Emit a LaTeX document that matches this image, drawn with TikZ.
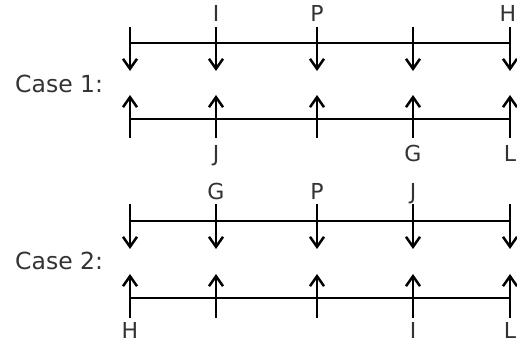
\documentclass[tikz,border=0pt]{standalone}
\usepackage{fontspec}
\setmainfont{DejaVu Sans}
\usetikzlibrary{arrows.meta,positioning}
\tikzset{
  caselab/.style={anchor=base west,inner sep=0pt,text=black!80,font=\fontsize{23.5}{28}\selectfont},
  ptlab/.style={anchor=base,inner sep=0pt,text=black!80,font=\fontsize{22}{26}\selectfont},
  track/.style={line width=2.5pt},
  tick/.style={line width=2.5pt,->}
}

\begin{document}
\begin{tikzpicture}[x=1pt,y=-1pt,>={Straight Barb[length=10pt,width=14pt,line width=2.5pt]}]
  \useasboundingbox (0,0) rectangle (517,344);

  \node[caselab] (case1) at (15,93) {Case 1:};
  \node[caselab] (case2) at (15,270) {Case 2:};

  % arrow ends for both cases
  \foreach \i/\x in {1/130,2/216,3/317,4/413,5/510} {
    \coordinate (dt\i) at (\x,27);  \coordinate (dh\i) at (\x,71);
    \coordinate (ut\i) at (\x,138); \coordinate (uh\i) at (\x,95);
    \coordinate (Dt\i) at (\x,204); \coordinate (Dh\i) at (\x,249);
    \coordinate (Ut\i) at (\x,318); \coordinate (Uh\i) at (\x,274);
  }

  % rails
  \draw[track] (130,43) coordinate (r1a) -- (510,43) coordinate (r1b);
  \draw[track] (130,119) coordinate (r2a) -- (510,119) coordinate (r2b);
  \draw[track] (130,221) coordinate (r3a) -- (510,221) coordinate (r3b);
  \draw[track] (130,298) coordinate (r4a) -- (510,298) coordinate (r4b);

  \foreach \i in {1,...,5} {
    \draw[tick] (dt\i) -- (dh\i);
    \draw[tick] (ut\i) -- (uh\i);
    \draw[tick] (Dt\i) -- (Dh\i);
    \draw[tick] (Ut\i) -- (Uh\i);
  }

  % case 1 labels
  \node[ptlab] (c1I) at (216,22) {I};
  \node[ptlab] (c1P) at (317,22) {P};
  \node[ptlab] (c1H) at (508,22) {H};
  \node[ptlab] (c1J) at (216,162) {J};
  \node[ptlab] (c1G) at (413,162) {G};
  \node[ptlab] (c1L) at (510,162) {L};

  % case 2 labels
  \node[ptlab] (c2G) at (216,200) {G};
  \node[ptlab] (c2P) at (317,200) {P};
  \node[ptlab] (c2J) at (413,200) {J};
  \node[ptlab] (c2H) at (130,339) {H};
  \node[ptlab] (c2I) at (413,339) {I};
  \node[ptlab] (c2L) at (510,339) {L};
\end{tikzpicture}
\end{document}
